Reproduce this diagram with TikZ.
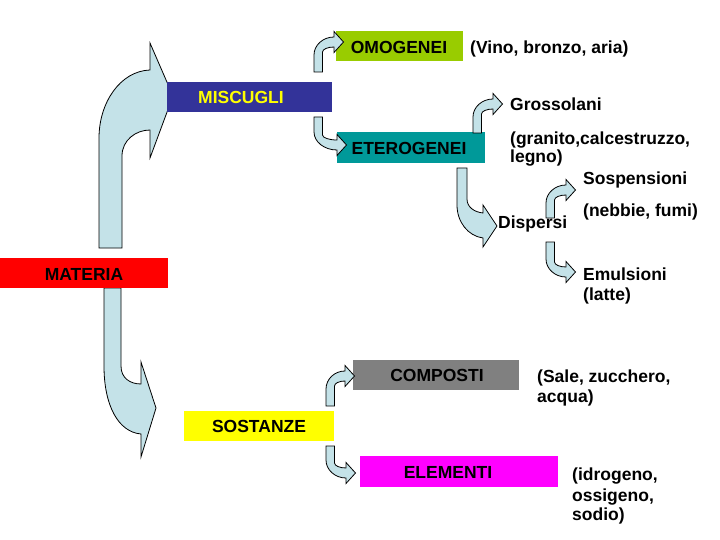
\documentclass[tikz,border=0pt]{standalone}
\usepackage{fontspec}
\setmainfont{Liberation Sans}
\definecolor{arrblue}{RGB}{196,226,232}
\definecolor{omogreen}{RGB}{153,204,0}
\definecolor{navy}{RGB}{51,51,153}
\definecolor{tealbox}{RGB}{0,153,153}
\definecolor{graybox}{RGB}{128,128,128}
\definecolor{magbox}{RGB}{255,0,255}
\definecolor{redbox}{RGB}{255,0,0}
\definecolor{yelbox}{RGB}{255,255,0}
\newcommand{\bentarr}[5]{%
 \pgfmathsetmacro\baA{#4+(#5)*13}%
 \pgfmathsetmacro\baB{#4+(#5)*13-0.55*(#5)*18}%
 \pgfmathsetmacro\baC{#3-0.55*(#3-#1)}%
 \pgfmathsetmacro\baD{#4-(#5)*5}%
 \pgfmathsetmacro\baE{#4-(#5)*10.5}%
 \pgfmathsetmacro\baF{#3+9.5}%
 \pgfmathsetmacro\baG{#4+(#5)*10.5}%
 \pgfmathsetmacro\baH{#4+(#5)*5}%
 \pgfmathsetmacro\baI{#1+8.5}%
 \pgfmathsetmacro\baJ{#3-0.55*(#3-#1-8.5)}%
 \pgfmathsetmacro\baK{#4+(#5)*10}%
 \pgfmathsetmacro\baL{#4+(#5)*7.25}%
 \draw[arr] (#1,#2) -- (#1,\baA) .. controls (#1,\baB) and (\baC,\baD) .. (#3,\baD)
   -- (#3,\baE) -- (\baF,#4) -- (#3,\baG) -- (#3,\baH)
   .. controls (\baJ,\baH) and (\baI,\baL) .. (\baI,\baK) -- (\baI,#2) -- cycle;}
\begin{document}
\begin{tikzpicture}[x=1pt,y=-1pt,
  arr/.style={fill=arrblue, draw=black, line width=0.8pt, line join=miter},
  box/.style={inner sep=0pt, outer sep=0pt, draw=none, minimum height=30pt},
  lbl/.style={font=\fontsize{17.5}{20}\selectfont\bfseries, inner sep=0pt},
  lt/.style={lbl, anchor=base west}]
\useasboundingbox[fill=white] (0,0) rectangle (720,540);

% big arrows (below boxes)
\draw[arr] (99,248) -- (99,138) .. controls (99,103) and (120,71) .. (150,70)
  -- (150,43) -- (173,96) -- (150,158) -- (150,130)
  .. controls (136,130) and (122,140) .. (122,156) -- (122,248) -- cycle;
\draw[arr] (104,288) -- (104,366) .. controls (104,405) and (118,432) .. (141,434)
  -- (141,457) -- (156,408) -- (141,362) -- (141,384)
  .. controls (130,384) and (121,378) .. (121,366) -- (121,288) -- cycle;
\draw[arr] (457,168) -- (457,205) .. controls (457,222) and (468,236) .. (483,238)
  -- (483,247) -- (497,226) -- (483,205) -- (483,213)
  .. controls (474,212) and (467,207) .. (467,199) -- (467,168) -- cycle;

% boxes
\node[box, fill=redbox, minimum width=168pt] (materia) at (84,273) {};
\node[box, fill=navy, minimum width=165pt] (miscugli) at (249.5,97) {};
\node[box, fill=omogreen, minimum width=127pt] (omogenei) at (399.5,46) {};
\node[box, fill=tealbox, minimum width=148pt, minimum height=31pt] (eterogenei) at (411,147.5) {};
\node[box, fill=yelbox, minimum width=150pt] (sostanze) at (259,426) {};
\node[box, fill=graybox, minimum width=166pt] (composti) at (436,375) {};
\node[box, fill=magbox, minimum width=198pt, minimum height=31pt] (elementi) at (459,471.5) {};

% small bent arrows
\bentarr{314}{72}{334}{42}{1}
\bentarr{314}{117}{337}{145}{-1}
\bentarr{473}{133}{493}{104}{1}
\bentarr{546}{218}{566}{190}{1}
\bentarr{546}{242}{566}{272}{-1}
\bentarr{326}{406}{345}{376}{1}
\bentarr{326}{446}{346}{473}{-1}

% box labels
\node[lbl] (tmateria) at (84,274) {MATERIA};
\node[lbl, text=yelbox] (tmiscugli) at (241,97.5) {MISCUGLI};
\node[lbl] (tomogenei) at (399,47.5) {OMOGENEI};
\node[lbl] (teterogenei) at (409,148) {ETEROGENEI};
\node[lbl] (tsostanze) at (259,426.5) {SOSTANZE};
\node[lbl] (tcomposti) at (437,375.5) {COMPOSTI};
\node[lbl] (telementi) at (448,472.5) {ELEMENTI};

% free texts
\node[lt] (vino) at (470,53.3) {(Vino, bronzo, aria)};
\node[lt] (gross) at (510,111) {Grossolani};
\node[lt] (gran1) at (510,145) {(granito,calcestruzzo,};
\node[lt] (gran2) at (510,163) {legno)};
\node[lt] (sosp) at (583,185) {Sospensioni};
\node[lt] (nebb) at (583,217) {(nebbie, fumi)};
\node[lt] (disp) at (498,228.3) {Dispersi};
\node[lt] (emul) at (583,280) {Emulsioni};
\node[lt] (latte) at (583,300) {(latte)};
\node[lt] (sale1) at (537,382.7) {(Sale, zucchero,};
\node[lt] (sale2) at (537,402.7) {acqua)};
\node[lt] (idro1) at (572,480) {(idrogeno,};
\node[lt] (idro2) at (572,501.7) {ossigeno,};
\node[lt] (idro3) at (572,520) {sodio)};
\end{tikzpicture}
\end{document}
